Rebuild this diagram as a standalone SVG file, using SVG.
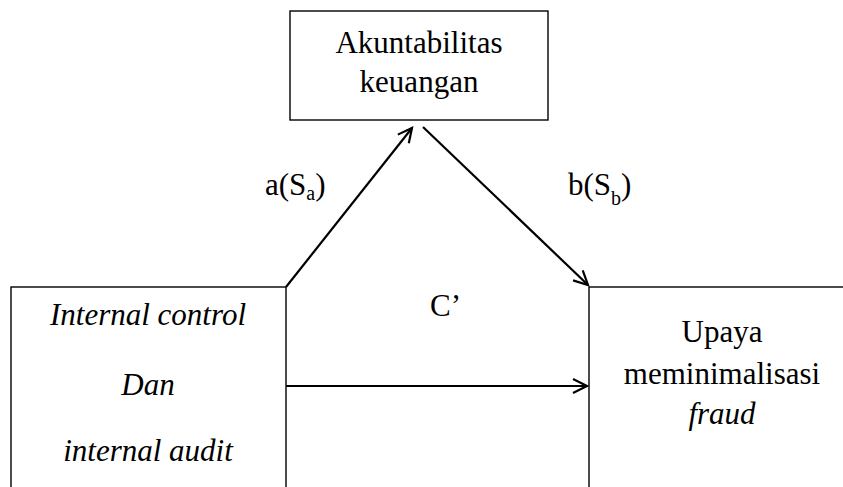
<svg xmlns="http://www.w3.org/2000/svg" width="843" height="487" viewBox="0 0 843 487">
<defs>
<marker id="ah" markerWidth="20" markerHeight="20" refX="16" refY="8" orient="auto" markerUnits="userSpaceOnUse">
<path d="M2,1 L16,8 L2,15" fill="none" stroke="#000" stroke-width="2.2"/>
</marker>
</defs>
<rect width="843" height="487" fill="#fff"/>
<g id="akuntabilitas">
<rect x="290" y="11" width="258" height="109" fill="#fff" stroke="#000" stroke-width="1.4"/>
<text x="419" y="53" font-family="Liberation Serif" font-size="31" text-anchor="middle">Akuntabilitas</text>
<text x="419" y="92" font-family="Liberation Serif" font-size="31" text-anchor="middle">keuangan</text>
</g>
<g id="internal">
<rect x="11" y="287" width="275" height="210" fill="#fff" stroke="#000" stroke-width="1.4"/>
<text x="148" y="325" font-family="Liberation Serif" font-size="31" text-anchor="middle" font-style="italic">Internal control</text>
<text x="148" y="395" font-family="Liberation Serif" font-size="31" text-anchor="middle" font-style="italic">Dan</text>
<text x="148" y="461" font-family="Liberation Serif" font-size="31" text-anchor="middle" font-style="italic">internal audit</text>
</g>
<g id="upaya">
<rect x="589" y="287" width="270" height="210" fill="#fff" stroke="#000" stroke-width="1.4"/>
<text x="722" y="342" font-family="Liberation Serif" font-size="31" text-anchor="middle">Upaya</text>
<text x="722" y="384" font-family="Liberation Serif" font-size="31" text-anchor="middle">meminimalisasi</text>
<text x="722" y="424" font-family="Liberation Serif" font-size="31" text-anchor="middle" font-style="italic">fraud</text>
</g>
<g id="connectors" fill="none" stroke="#000" stroke-width="2.2">
<line x1="286" y1="287" x2="412" y2="128" marker-end="url(#ah)"/>
<line x1="423" y1="127" x2="588" y2="285" marker-end="url(#ah)"/>
<line x1="286" y1="386" x2="587" y2="386" marker-end="url(#ah)"/>
</g>
<g id="labels">
<text x="265" y="195" font-family="Liberation Serif" font-size="31">a(S<tspan font-size="20" dy="5">a</tspan><tspan dy="-5">)</tspan></text>
<text x="568" y="195" font-family="Liberation Serif" font-size="31">b(S<tspan font-size="20" dy="10">b</tspan><tspan dy="-10">)</tspan></text>
<text x="430" y="316" font-family="Liberation Serif" font-size="31">C&#8217;</text>
</g>
</svg>
